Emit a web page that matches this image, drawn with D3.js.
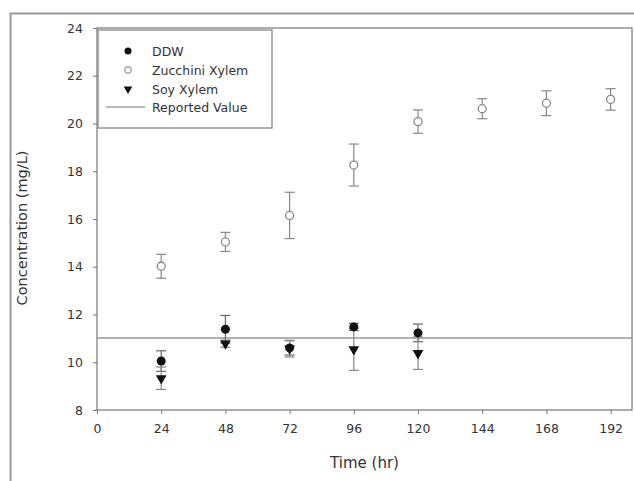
<!DOCTYPE html>
<html lang="en">
<head>
<meta charset="UTF-8">
<script src="https://d3js.org/d3.v7.min.js"></script>
<style>
  body { margin: 0; background: #fff; }
  text { font-family: "DejaVu Sans", sans-serif; fill: #333; }
</style>
</head>
<body>
<div id="chart"></div>
<script>
// data
const times = [24, 48, 72, 96, 120, 144, 168, 192]
const ddwMean = [10.05, 11.38, 10.6, 11.48, 11.23]
const ddwErr = [0.43, 0.58, 0.3, 0.15, 0.37]
const zucMean = [14.02, 15.04, 16.15, 18.26, 20.08, 20.62, 20.85, 21.01]
const zucErr = [0.5, 0.4, 0.97, 0.88, 0.49, 0.42, 0.52, 0.45]
const soyMean = [9.33, 10.78, 10.57, 10.54, 10.38]
const soyErr = [0.47, 0.15, 0.35, 0.88, 0.68]
const reported = 11.02
const xTicks = [0, 24, 48, 72, 96, 120, 144, 168, 192]
const yTicks = [8, 10, 12, 14, 16, 18, 20, 22, 24]

const W = 634, H = 481
const svg = d3.select("#chart").append("svg").attr("width", W).attr("height", H)

// outer frame (page border)
svg.append("path").attr("d", "M10.5," + H + "V13.5H" + W)
  .attr("fill", "none").attr("stroke", "#999").attr("stroke-width", 2)

const pl = 97, pr = 632, pt = 28, pb = 410
const x = d3.scaleLinear().domain([0, 200]).range([pl, pr])
const y = d3.scaleLinear().domain([8, 24]).range([pb, pt])

// plot box
svg.append("rect").attr("x", pl).attr("y", pt)
  .attr("width", pr - pl).attr("height", pb - pt)
  .attr("fill", "none").attr("stroke", "#777").attr("stroke-width", 1.2)

const xAxis = svg.append("g").attr("transform", "translate(0," + pb + ")")
  .call(d3.axisBottom(x).tickValues(xTicks).tickSize(4).tickPadding(10))
const yAxis = svg.append("g").attr("transform", "translate(" + pl + ",0)")
  .call(d3.axisLeft(y).tickValues(yTicks).tickSize(4).tickPadding(10))
;[xAxis, yAxis].forEach(g => {
  g.select(".domain").remove()
  g.selectAll("line").attr("stroke", "#777")
  g.selectAll("text").attr("font-size", 12.5).attr("fill", "#333")
    .style("font-family", "DejaVu Sans")
})

svg.append("text").attr("x", (pl + pr) / 2).attr("y", 468)
  .attr("text-anchor", "middle").attr("font-size", 15).text("Time (hr)")
svg.append("text").attr("transform", "translate(27," + 228 + ") rotate(-90)")
  .attr("text-anchor", "middle").attr("font-size", 14.5).text("Concentration (mg/L)")

// reported value line
svg.append("line").attr("x1", pl).attr("x2", pr)
  .attr("y1", y(reported)).attr("y2", y(reported))
  .attr("stroke", "#999").attr("stroke-width", 1.5)

function errBars(means, errs, color) {
  const g = svg.append("g").attr("stroke", color).attr("stroke-width", 1.2)
  means.forEach((m, i) => {
    const cx = x(times[i])
    g.append("line").attr("x1", cx).attr("x2", cx).attr("y1", y(m + errs[i])).attr("y2", y(m - errs[i]))
    ;[m + errs[i], m - errs[i]].forEach(v => {
      g.append("line").attr("x1", cx - 5).attr("x2", cx + 5).attr("y1", y(v)).attr("y2", y(v))
    })
  })
}

errBars(zucMean, zucErr, "#888")
errBars(ddwMean, ddwErr, "#666")
errBars(soyMean, soyErr, "#888")

const tri = d3.symbol().type(d3.symbolTriangle).size(50)

svg.append("g").selectAll("circle").data(zucMean).join("circle")
  .attr("cx", (d, i) => x(times[i])).attr("cy", d => y(d)).attr("r", 4)
  .attr("fill", "#fff").attr("stroke", "#888").attr("stroke-width", 1.3)

svg.append("g").selectAll("path").data(soyMean).join("path")
  .attr("d", tri)
  .attr("transform", (d, i) => "translate(" + x(times[i]) + "," + y(d) + ") rotate(180)")
  .attr("fill", "#111")

svg.append("g").selectAll("circle").data(ddwMean).join("circle")
  .attr("cx", (d, i) => x(times[i])).attr("cy", d => y(d)).attr("r", 4.5)
  .attr("fill", "#111")

// legend
const lg = svg.append("g")
lg.append("rect").attr("x", 98).attr("y", 30).attr("width", 174).attr("height", 98)
  .attr("fill", "#fff").attr("stroke", "#888").attr("stroke-width", 1.3)
const labels = ["DDW", "Zucchini Xylem", "Soy Xylem", "Reported Value"]
const ly = [51, 70, 89, 107]
labels.forEach((t, i) => {
  lg.append("text").attr("x", 152).attr("y", ly[i] + 4.5).attr("font-size", 12.5).text(t)
})
lg.append("circle").attr("cx", 128).attr("cy", ly[0]).attr("r", 3.5).attr("fill", "#111")
lg.append("circle").attr("cx", 128).attr("cy", ly[1]).attr("r", 3.2)
  .attr("fill", "#fff").attr("stroke", "#999").attr("stroke-width", 1.2)
lg.append("path").attr("d", d3.symbol().type(d3.symbolTriangle).size(32))
  .attr("transform", "translate(128," + ly[2] + ") rotate(180)").attr("fill", "#111")
lg.append("line").attr("x1", 106).attr("x2", 145).attr("y1", ly[3]).attr("y2", ly[3])
  .attr("stroke", "#777").attr("stroke-width", 1.2)
</script>
</body>
</html>
